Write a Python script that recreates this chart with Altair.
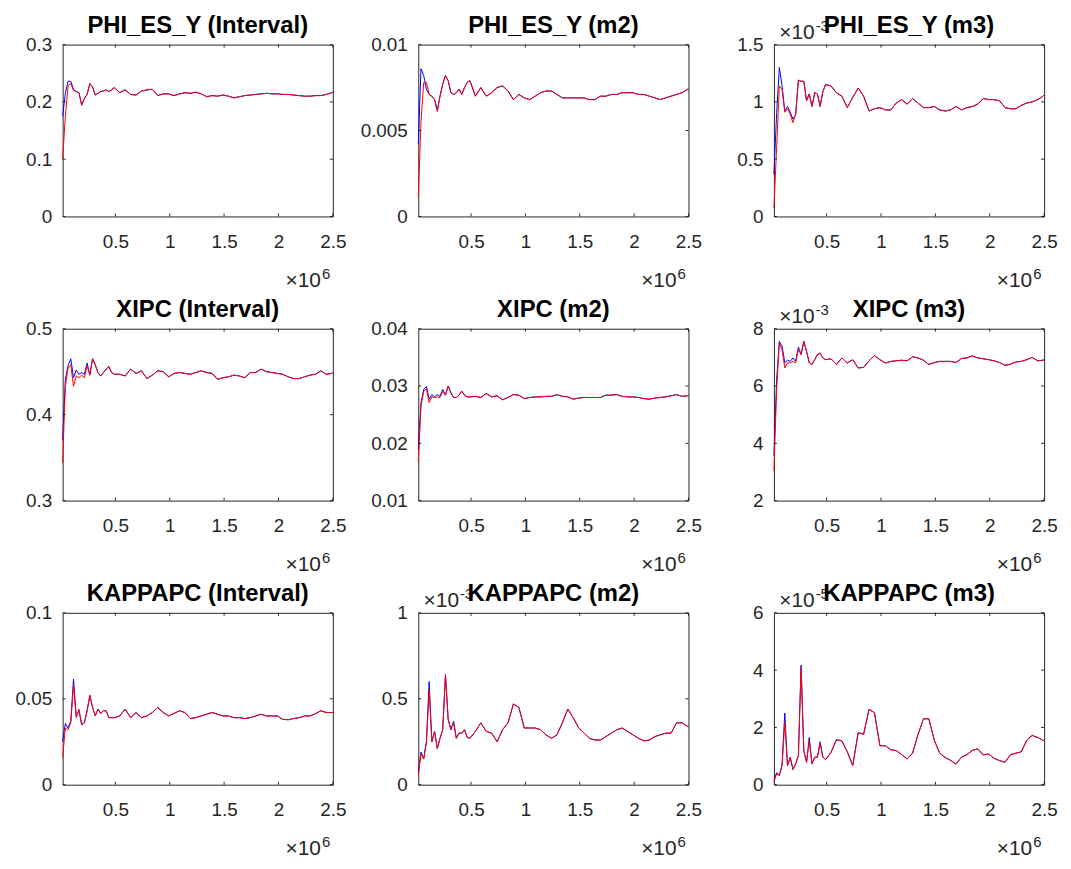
import altair as alt
import pandas as pd

# shared x grid (draws, in millions)
X = [0.015, 0.04, 0.065, 0.09, 0.115, 0.14, 0.165, 0.19, 0.215, 0.24,
     0.265, 0.29, 0.315, 0.34, 0.365, 0.39, 0.415, 0.44, 0.465, 0.49,
     0.54, 0.59, 0.64, 0.69, 0.74, 0.79, 0.84, 0.89, 0.94, 0.99,
     1.04, 1.09, 1.14, 1.19, 1.24, 1.29, 1.34, 1.39, 1.44, 1.49,
     1.54, 1.59, 1.64, 1.69, 1.74, 1.79, 1.84, 1.89, 1.94, 1.99,
     2.04, 2.09, 2.14, 2.19, 2.24, 2.29, 2.34, 2.39, 2.44, 2.49,
     2.5]
X_TICKS = [0.5, 1, 1.5, 2, 2.5]

TITLES = ["PHI_ES_Y (Interval)", "PHI_ES_Y (m2)", "PHI_ES_Y (m3)",
          "XIPC (Interval)", "XIPC (m2)", "XIPC (m3)",
          "KAPPAPC (Interval)", "KAPPAPC (m2)", "KAPPAPC (m3)"]

# red series (full), blue series (leading part; afterwards identical to red)
RED_1 = [0.100, 0.175, 0.228, 0.232, 0.220, 0.218, 0.216, 0.194, 0.206, 0.213,
         0.232, 0.226, 0.212, 0.215, 0.218, 0.219, 0.221, 0.218, 0.221, 0.225,
         0.216, 0.221, 0.213, 0.212, 0.219, 0.221, 0.222, 0.211, 0.214, 0.214,
         0.211, 0.214, 0.216, 0.215, 0.217, 0.214, 0.209, 0.211, 0.210, 0.212,
         0.210, 0.207, 0.209, 0.211, 0.212, 0.213, 0.214, 0.215, 0.214, 0.214,
         0.213, 0.213, 0.212, 0.211, 0.210, 0.210, 0.211, 0.211, 0.213, 0.216,
         0.217]
BLUE_1 = [0.175, 0.215, 0.236, 0.236, 0.222, 0.218, 0.216, 0.195]

RED_2 = [0.0011, 0.0055, 0.0078, 0.0078, 0.0071, 0.0070, 0.0068, 0.0061, 0.0070, 0.0077,
         0.0082, 0.0079, 0.0072, 0.0071, 0.0072, 0.0074, 0.0071, 0.0075, 0.0078, 0.0079,
         0.0070, 0.0075, 0.0070, 0.0072, 0.0075, 0.0076, 0.0073, 0.0068, 0.0071, 0.0069,
         0.0068, 0.0070, 0.0072, 0.0073, 0.0073, 0.0071, 0.0069, 0.0069, 0.0069, 0.0069,
         0.0069, 0.0068, 0.0068, 0.0070, 0.0070, 0.0071, 0.0071, 0.0072, 0.0072, 0.0072,
         0.0071, 0.0071, 0.0070, 0.0069, 0.0068, 0.0069, 0.0070, 0.0071, 0.0072, 0.0074,
         0.0074]
BLUE_2 = [0.0042, 0.0086, 0.0082, 0.0074, 0.0071, 0.0070, 0.0068, 0.0062]

RED_3 = [0.07, 0.60, 1.14, 1.11, 0.91, 0.94, 0.89, 0.82, 0.89, 1.19,
         1.18, 1.18, 1.01, 1.07, 0.96, 1.08, 1.07, 0.96, 1.09, 1.15,
         1.14, 1.08, 1.05, 0.95, 1.04, 1.12, 1.05, 0.92, 0.94, 0.95,
         0.93, 0.93, 0.99, 1.02, 0.98, 1.03, 0.99, 0.95, 0.95, 0.96,
         0.93, 0.92, 0.93, 0.96, 0.93, 0.95, 0.96, 0.98, 1.03, 1.02,
         1.02, 1.01, 0.95, 0.94, 0.94, 0.97, 0.99, 1.00, 1.02, 1.05,
         1.06]
BLUE_3 = [0.37, 0.90, 1.30, 1.14, 0.92, 0.96, 0.91, 0.85]

RED_4 = [0.344, 0.433, 0.454, 0.458, 0.433, 0.445, 0.443, 0.446, 0.443, 0.457,
         0.446, 0.465, 0.458, 0.449, 0.445, 0.449, 0.453, 0.456, 0.449, 0.447,
         0.447, 0.445, 0.453, 0.448, 0.451, 0.442, 0.446, 0.451, 0.450, 0.444,
         0.448, 0.449, 0.448, 0.447, 0.449, 0.451, 0.449, 0.448, 0.441, 0.443,
         0.444, 0.446, 0.445, 0.443, 0.449, 0.449, 0.453, 0.450, 0.449, 0.448,
         0.447, 0.444, 0.442, 0.442, 0.444, 0.446, 0.447, 0.451, 0.447, 0.448,
         0.449]
BLUE_4 = [0.370, 0.441, 0.457, 0.465, 0.443, 0.452, 0.447, 0.449, 0.447, 0.460]

RED_5 = [0.0167, 0.0265, 0.0291, 0.0295, 0.0271, 0.0281, 0.0280, 0.0281, 0.0280, 0.0291,
         0.0284, 0.0300, 0.0288, 0.0280, 0.0280, 0.0284, 0.0291, 0.0284, 0.0281, 0.0281,
         0.0282, 0.0280, 0.0287, 0.0281, 0.0283, 0.0276, 0.0280, 0.0285, 0.0284, 0.0278,
         0.0280, 0.0281, 0.0281, 0.0282, 0.0282, 0.0285, 0.0282, 0.0281, 0.0277, 0.0279,
         0.0280, 0.0280, 0.0280, 0.0280, 0.0284, 0.0284, 0.0285, 0.0282, 0.0281, 0.0281,
         0.0280, 0.0278, 0.0277, 0.0279, 0.0280, 0.0281, 0.0283, 0.0285, 0.0282, 0.0283,
         0.0284]
BLUE_5 = [0.0190, 0.0271, 0.0294, 0.0299, 0.0277, 0.0285, 0.0281, 0.0285, 0.0282, 0.0294]

RED_6 = [3.04, 5.88, 7.50, 7.27, 6.63, 6.81, 6.81, 6.86, 6.81, 7.27,
         7.10, 7.56, 7.21, 6.81, 6.75, 6.92, 7.10, 7.15, 6.98, 6.92,
         6.95, 6.75, 6.98, 6.80, 6.92, 6.63, 6.65, 6.88, 7.06, 6.92,
         6.80, 6.86, 6.88, 6.90, 6.88, 7.02, 6.98, 6.90, 6.75, 6.82,
         6.86, 6.86, 6.86, 6.82, 6.96, 6.98, 7.05, 6.98, 6.95, 6.92,
         6.88, 6.82, 6.72, 6.76, 6.84, 6.86, 6.92, 7.00, 6.88, 6.90,
         6.92]
BLUE_6 = [3.56, 6.23, 7.56, 7.39, 6.81, 6.90, 6.86, 6.98, 6.86, 7.36]

RED_7 = [0.016, 0.033, 0.032, 0.036, 0.058, 0.039, 0.044, 0.035, 0.036, 0.043,
         0.052, 0.045, 0.040, 0.044, 0.0415, 0.043, 0.043, 0.039, 0.039, 0.039,
         0.040, 0.044, 0.039, 0.042, 0.039, 0.040, 0.042, 0.045, 0.042, 0.040,
         0.0415, 0.043, 0.042, 0.0385, 0.039, 0.040, 0.041, 0.042, 0.041, 0.040,
         0.040, 0.039, 0.039, 0.0385, 0.039, 0.040, 0.041, 0.040, 0.040, 0.040,
         0.038, 0.0378, 0.0385, 0.039, 0.040, 0.040, 0.0413, 0.043, 0.042, 0.042,
         0.042]
BLUE_7 = [0.025, 0.0356, 0.033, 0.037, 0.0615, 0.040, 0.043, 0.035]

RED_8 = [0.054, 0.18, 0.15, 0.25, 0.55, 0.25, 0.31, 0.21, 0.27, 0.32,
         0.64, 0.38, 0.32, 0.36, 0.27, 0.30, 0.30, 0.32, 0.275, 0.27,
         0.31, 0.36, 0.31, 0.30, 0.25, 0.32, 0.36, 0.47, 0.45, 0.33,
         0.33, 0.33, 0.32, 0.29, 0.27, 0.29, 0.36, 0.44, 0.39, 0.33,
         0.30, 0.27, 0.26, 0.26, 0.28, 0.30, 0.32, 0.33, 0.31, 0.29,
         0.27, 0.255, 0.26, 0.28, 0.29, 0.30, 0.30, 0.36, 0.36, 0.34,
         0.34]
BLUE_8 = [0.073, 0.19, 0.15, 0.25, 0.60, 0.25, 0.31, 0.21, 0.27, 0.32, 0.64, 0.38, 0.32, 0.37]

RED_9 = [0.09, 0.38, 0.32, 0.67, 2.17, 0.67, 0.96, 0.53, 0.73, 1.02,
         4.07, 1.19, 0.78, 1.53, 0.73, 0.96, 0.96, 1.45, 0.96, 0.88,
         1.13, 1.57, 1.53, 1.15, 0.67, 1.82, 1.76, 2.63, 2.51, 1.36,
         1.36, 1.22, 1.19, 1.05, 0.90, 1.10, 1.75, 2.30, 2.30, 1.55,
         1.10, 0.95, 0.85, 0.72, 0.96, 1.05, 1.20, 1.25, 1.04, 1.07,
         0.92, 0.84, 0.78, 1.05, 1.10, 1.15, 1.55, 1.72, 1.65, 1.55,
         1.53]
BLUE_9 = [0.15, 0.42, 0.32, 0.70, 2.50, 0.67, 0.96, 0.53, 0.73, 1.02, 4.17, 1.19,
          0.78, 1.65, 0.73, 0.96, 0.96, 1.50]

Y_DOMAINS = [[0, 0.3], [0, 0.01], [0, 1.5],
             [0.3, 0.5], [0.01, 0.04], [2, 8],
             [0, 0.1], [0, 1], [0, 6]]
Y_TICKS = [[0, 0.1, 0.2, 0.3], [0, 0.005, 0.01], [0, 0.5, 1, 1.5],
           [0.3, 0.4, 0.5], [0.01, 0.02, 0.03, 0.04], [2, 4, 6, 8],
           [0, 0.05, 0.1], [0, 0.5, 1], [0, 2, 4, 6]]
Y_EXPONENT = [None, None, "-3", None, None, "-3", None, "-3", "-5"]

REDS = [RED_1, RED_2, RED_3, RED_4, RED_5, RED_6, RED_7, RED_8, RED_9]
BLUES = [BLUE_1, BLUE_2, BLUE_3, BLUE_4, BLUE_5, BLUE_6, BLUE_7, BLUE_8, BLUE_9]

W, H = 272, 173
FONT = "Liberation Sans"
AX = "#262626"
TICK_FS = 19
EXP_FS = 21


def text_layer(txt, x, y, size, align, color=AX, weight="normal"):
    return alt.Chart(pd.DataFrame({"t": [txt]})).mark_text(
        font=FONT, fontSize=size, color=color, align=align, baseline="alphabetic",
        fontWeight=weight
    ).encode(text="t:N", x=alt.value(x), y=alt.value(y))


def panel(i):
    red = REDS[i]
    blue = BLUES[i] + red[len(BLUES[i]):]
    df = pd.DataFrame({"x": X + X, "v": blue + red,
                       "s": ["blue"] * len(X) + ["red"] * len(X)})
    xs = alt.Scale(domain=[0.015, 2.5], nice=False, zero=False)
    ys = alt.Scale(domain=Y_DOMAINS[i], nice=False, zero=False)
    xax = alt.Axis(values=X_TICKS, format="~g", title=None, ticks=False, domain=False,
                   grid=False, labelFont=FONT, labelFontSize=TICK_FS, labelColor=AX,
                   labelPadding=16, labelFlush=False, labelOverlap=False)
    yax = alt.Axis(values=Y_TICKS[i], format="~g", title=None, ticks=False, domain=False,
                   grid=False, labelFont=FONT, labelFontSize=TICK_FS, labelColor=AX,
                   labelPadding=11, labelFlush=False, labelOverlap=False)
    base = alt.Chart(df)
    blue_line = base.transform_filter("datum.s == 'blue'").mark_line(
        color="#0000ff", strokeWidth=1).encode(
        x=alt.X("x:Q", scale=xs, axis=xax), y=alt.Y("v:Q", scale=ys, axis=yax))
    red_line = base.transform_filter("datum.s == 'red'").mark_line(
        color="#ff0000", strokeWidth=1).encode(
        x=alt.X("x:Q", scale=xs, axis=xax), y=alt.Y("v:Q", scale=ys, axis=yax))

    xt = alt.Chart(pd.DataFrame({"t": X_TICKS}))
    yt = alt.Chart(pd.DataFrame({"t": Y_TICKS[i]}))
    tb = xt.mark_rule(color=AX, strokeWidth=1).encode(
        x=alt.X("t:Q", scale=xs, axis=xax), y=alt.value(H), y2=alt.value(H - 3))
    tt = xt.mark_rule(color=AX, strokeWidth=1).encode(
        x=alt.X("t:Q", scale=xs, axis=xax), y=alt.value(0), y2=alt.value(3))
    tl = yt.mark_rule(color=AX, strokeWidth=1).encode(
        y=alt.Y("t:Q", scale=ys, axis=yax), x=alt.value(0), x2=alt.value(3))
    tr = yt.mark_rule(color=AX, strokeWidth=1).encode(
        y=alt.Y("t:Q", scale=ys, axis=yax), x=alt.value(W - 3), x2=alt.value(W))

    layers = [blue_line, red_line, tb, tt, tl, tr,
              text_layer("×10", W - 12, H + 71, EXP_FS, "right"),
              text_layer("6", W - 11, H + 63, 15, "left")]
    if Y_EXPONENT[i]:
        layers.append(text_layer("×10", 41, -6, EXP_FS, "right"))
        layers.append(text_layer(Y_EXPONENT[i], 42, -14, 15, "left"))
    layers.append(text_layer(TITLES[i], W / 2, -12, 24, "center", "black", "bold"))

    return alt.layer(*layers).properties(width=W, height=H)


chart = alt.concat(*[panel(i) for i in range(9)], columns=3,
                   spacing={"row": 113, "column": 86}, bounds="flush").properties(
    padding={"left": 6, "top": 2, "right": 5, "bottom": 5},
    background="white",
).configure_view(stroke=AX, strokeWidth=1)

chart.save("out.html", embed_options={"renderer": "svg", "actions": False})
